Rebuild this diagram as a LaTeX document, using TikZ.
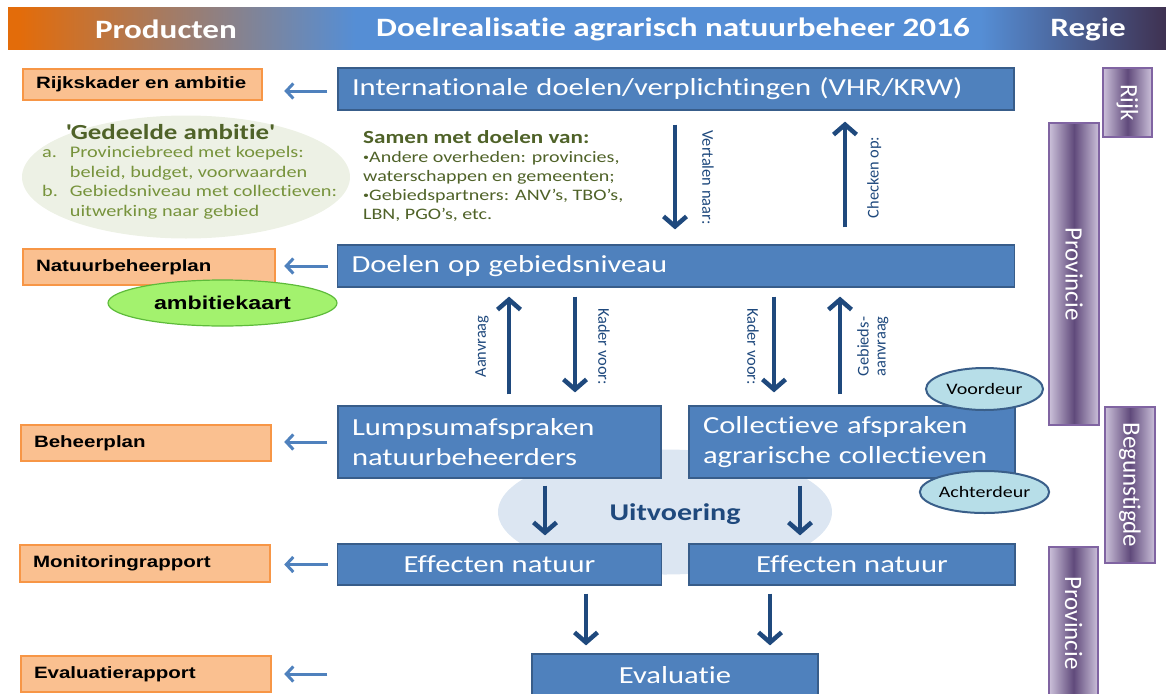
\documentclass[tikz,border=0pt]{standalone}
\usepackage{fontspec}
\setmainfont{Carlito}[FakeStretch=1.25, RawFeature={-liga;-clig;-calt;-dlig}]
\newfontfamily\rechtop{Carlito}[RawFeature={-liga;-clig;-calt;-dlig}]
\newfontfamily\arialbreed{Liberation Sans}[FakeStretch=1.25]
\usetikzlibrary{positioning,arrows.meta,shapes.geometric}

\definecolor{koporanje}{HTML}{E36C0A}
\definecolor{kopblauw}{HTML}{558ED5}
\definecolor{koppaars}{HTML}{3F3151}
\definecolor{blauwvlak}{HTML}{4F81BD}
\definecolor{blauwrand}{HTML}{385D8A}
\definecolor{pijldonker}{HTML}{1F497D}
\definecolor{pijllicht}{HTML}{4F81BD}
\definecolor{oranjevlak}{HTML}{FAC090}
\definecolor{oranjerand}{HTML}{F79646}
\definecolor{paarslicht}{HTML}{CCC1DA}
\definecolor{paarsdonker}{HTML}{604A7B}
\definecolor{paarsrand}{HTML}{8064A2}
\definecolor{uitvoervlak}{HTML}{DCE6F2}
\definecolor{deurvlak}{HTML}{B7DEE8}
\definecolor{deurrand}{HTML}{3A5F8A}
\definecolor{ambitievlak}{HTML}{EDF1E5}
\definecolor{kaartvlak}{HTML}{A3F26E}
\definecolor{kaartrand}{HTML}{5DBB3A}
\definecolor{groendonker}{HTML}{4F6228}
\definecolor{groenlicht}{HTML}{77933C}

% 25bp..75bp is the part that covers the path
\pgfdeclarehorizontalshading{kopverloop}{100bp}{color(0bp)=(koporanje); color(25.5bp)=(koporanje);
	color(40bp)=(kopblauw); color(67bp)=(kopblauw); color(75bp)=(koppaars); color(100bp)=(koppaars)}

\newcommand{\kleinbol}{\raisebox{.25ex}{\scalebox{.6}{•}}}
% geen ti-ligatuur
\newcommand{\ti}{t\kern0pt i}

\tikzset{
	doelbox/.style={draw=blauwrand, fill=blauwvlak, line width=1.2pt, text=white,
		font=\fontsize{24.5}{30}\selectfont, inner xsep=14pt, inner ysep=0pt},
	productbox/.style={draw=oranjerand, fill=oranjevlak, line width=2.5pt, align=left,
		font=\arialbreed\bfseries\fontsize{16.4}{19}\selectfont, inner xsep=13pt, inner ysep=0pt},
	regiebalk/.style={draw=paarsrand, line width=1.2pt, left color=paarslicht, right color=paarslicht,
		middle color=paarsdonker, text=white, font=\rechtop\fontsize{25}{28}\selectfont, rotate=-90, inner sep=0pt},
	pijl/.style={pijldonker, line width=4.5pt, -{Straight Barb[length=10pt,width=23pt]}},
	terugpijl/.style={pijllicht, line width=3pt, -{Straight Barb[length=7pt,width=15pt]}},
	pijllabel/.style={sloped, text=pijldonker, font=\rechtop\fontsize{16.4}{17}\selectfont, inner sep=1pt},
	deur/.style={ellipse, draw=deurrand, fill=deurvlak, line width=2pt, minimum width=117pt,
		minimum height=42pt, inner sep=0pt, font=\fontsize{16}{18}\selectfont},
	kop/.style={text=white, font=\bfseries\fontsize{26.5}{30}\selectfont}
}

\begin{document}
\begin{tikzpicture}[x=1pt,y=-1pt]
	\useasboundingbox (0,0) rectangle (1166,693);
	% kopbalk
	\shade[shading=kopverloop] (8,8) rectangle (1166,50);
	\node (kopproduct) [kop] at (166,29) {Producten};
	\node (koptitel) [kop] at (673,29) {Doelrealisa\ti e agrarisch natuurbeheer 2016};
	\node (kopregie) [kop] at (1088,29) {Regie};

	% achtergrond-ellipsen
	\node (ambitie) [ellipse, fill=ambitievlak, minimum width=328pt, minimum height=123pt] at (186,177) {};
	\node (uitvoering) [ellipse, fill=uitvoervlak, minimum width=334pt, minimum height=125pt] at (665,512) {};
	\node (uitvoertekst) [text=pijldonker, font=\bfseries\fontsize{24}{28}\selectfont] at (675,514) {Uitvoering};

	% doelen en afspraken
	\node (intl) [doelbox, text width=648pt, align=left, minimum height=42pt] at (676,89)
		{Internationale doelen/verplichtingen (VHR/KRW)};
	\node (doelen) [doelbox, text width=649pt, align=left, minimum height=42pt] at (676,266)
		{Doelen op gebiedsniveau};
	\node (lump) [doelbox, text width=295pt, align=left, minimum height=72pt] at (499.5,442)
		{Lumpsumafspraken\\natuurbeheerders};
	\node (coll) [doelbox, text width=298pt, align=left, minimum height=72pt] at (852,442)
		{Collectieve afspraken\\agrarische collectieven};
	\node (eff1) [doelbox, minimum width=324pt, minimum height=41pt] at (499.5,564.5) {Effecten natuur};
	\node (eff2) [doelbox, minimum width=326pt, minimum height=41pt] at (852,564.5) {Effecten natuur};
	\node (eval) [doelbox, minimum width=286pt, minimum height=42pt] at (675,675) {Evalua\ti e};

	\node (voordeur) [deur] at (984.5,389) {Voordeur};
	\node (achterdeur) [deur] at (984.5,492) {Achterdeur};

	% producten
	\node (rijkskader) [productbox, text width=213pt, minimum height=31pt] at (142.5,84.5) {\mbox{Rijkskader en ambitie}};
	\node (nbplan) [productbox, text width=226pt, minimum height=36pt] at (149,267) {Natuurbeheerplan};
	\node (bplan) [productbox, text width=224pt, minimum height=36pt] at (146,443) {Beheerplan};
	\node (monitor) [productbox, text width=224pt, minimum height=37pt] at (145,563.5) {Monitoringrapport};
	\node (evalrap) [productbox, text width=224pt, minimum height=36pt] at (146,674) {Evaluatierapport};
	\node (kaart) [ellipse, draw=kaartrand, fill=kaartvlak, line width=1.2pt, minimum width=229pt,
		minimum height=46pt, font=\arialbreed\bfseries\fontsize{18.6}{20}\selectfont] at (222.5,303) {ambitiekaart};

	% teksten
	\node (ambitietitel) [text=groendonker, font=\bfseries\fontsize{21.5}{24}\selectfont] at (170,132)
		{\textquotesingle Gedeelde ambi\ti e\textquotesingle};
	\node (ambitielijst) [anchor=north west, inner sep=0pt, text=groenlicht, font=\fontsize{16.2}{19.5}\selectfont] at (42,144)
		{\begin{tabular}{@{}l@{\hspace{12pt}}l@{}}
			a. & Provinciebreed met koepels:\\
			   & beleid, budget, voorwaarden\\
			b. & Gebiedsniveau met collec\ti even:\\
			   & uitwerking naar gebied
		\end{tabular}};
	\node (samentitel) [anchor=west, inner sep=0pt, text=groendonker, font=\bfseries\fontsize{18.5}{22}\selectfont] at (363,137)
		{Samen met doelen van:};
	\node (samenlijst) [anchor=north west, inner sep=0pt, align=left, text=groendonker, font=\fontsize{16}{19.2}\selectfont] at (363,151)
		{\kleinbol Andere overheden: provincies,\\waterschappen en gemeenten;\\\kleinbol Gebiedspartners: ANV’s, TBO’s,\\LBN, PGO’s, etc.};

	% regie
	\node (rijk) [regiebalk, minimum width=69pt, minimum height=49pt] at (1127.5,102.5) {Rijk};
	\node (prov1) [regiebalk, minimum width=302pt, minimum height=50pt] at (1074,274) {Provincie};
	\node (begunstigde) [regiebalk, minimum width=156pt, minimum height=50pt] at (1130,485) {Begunstigde};
	\node (prov2) [regiebalk, minimum width=152pt, minimum height=49pt] at (1073.5,623) {Provincie};

	% verticale pijlen
	\path[pijl]
	([xshift=-1pt]intl.south) edge[shorten <=14pt, shorten >=15pt]
		node (lblvertalen) [pijllabel, midway, above=24pt] {Vertalen naar:} ([xshift=-1pt]doelen.north)
	([xshift=169pt]doelen.north) edge[shorten <=17pt, shorten >=11pt]
		node (lblchecken) [pijllabel, midway, below=19pt] {Checken op:} ([xshift=169pt]intl.south)
	([xshift=9.5pt]lump.north) edge[shorten <=11pt, shorten >=9pt]
		node (lblaanvraag) [pijllabel, midway, above=17pt] {Aanvraag} ([xshift=-167pt]doelen.south)
	([xshift=-101pt]doelen.south) edge[shorten <=9pt, shorten >=13pt]
		node (lblkader1) [pijllabel, midway, above=20pt] {Kader voor:} ([xshift=75.5pt]lump.north)
	([xshift=98pt]doelen.south) edge[shorten <=9pt, shorten >=13pt]
		node (lblkader2) [pijllabel, midway, below=12pt] {Kader voor:} ([xshift=-78pt]coll.north)
	([xshift=-12pt]coll.north) edge[shorten <=11pt, shorten >=9pt]
		node (lblgebied) [pijllabel, midway, below=14pt, align=center] {Gebieds-\\aanvraag} ([xshift=164pt]doelen.south)
	([xshift=45.5pt]lump.south) edge[shorten <=7pt, shorten >=8pt] ([xshift=45.5pt]eff1.north)
	([xshift=-52pt]coll.south) edge[shorten <=7pt, shorten >=8pt] ([xshift=-52pt]eff2.north)
	([xshift=86.5pt]eff1.south) edge[shorten <=8pt, shorten >=8pt] ([xshift=-89pt]eval.north)
	([xshift=-82pt]eff2.south) edge[shorten <=8pt, shorten >=8pt] ([xshift=95pt]eval.north);

	% pijlen naar producten
	\path[terugpijl]
	(intl.west |- 0,91) edge[shorten <=10pt, shorten >=21pt] (rijkskader.east |- 0,91)
	(doelen.west) edge[shorten <=9pt, shorten >=8pt] (doelen.west -| nbplan.east)
	(lump.west) edge[shorten <=10pt, shorten >=12pt] (lump.west -| bplan.east)
	(eff1.west) edge[shorten <=9pt, shorten >=13pt] (eff1.west -| monitor.east)
	(evalrap.east -| eval.west) edge[shorten <=204pt, shorten >=12pt] (evalrap.east);
\end{tikzpicture}
\end{document}
